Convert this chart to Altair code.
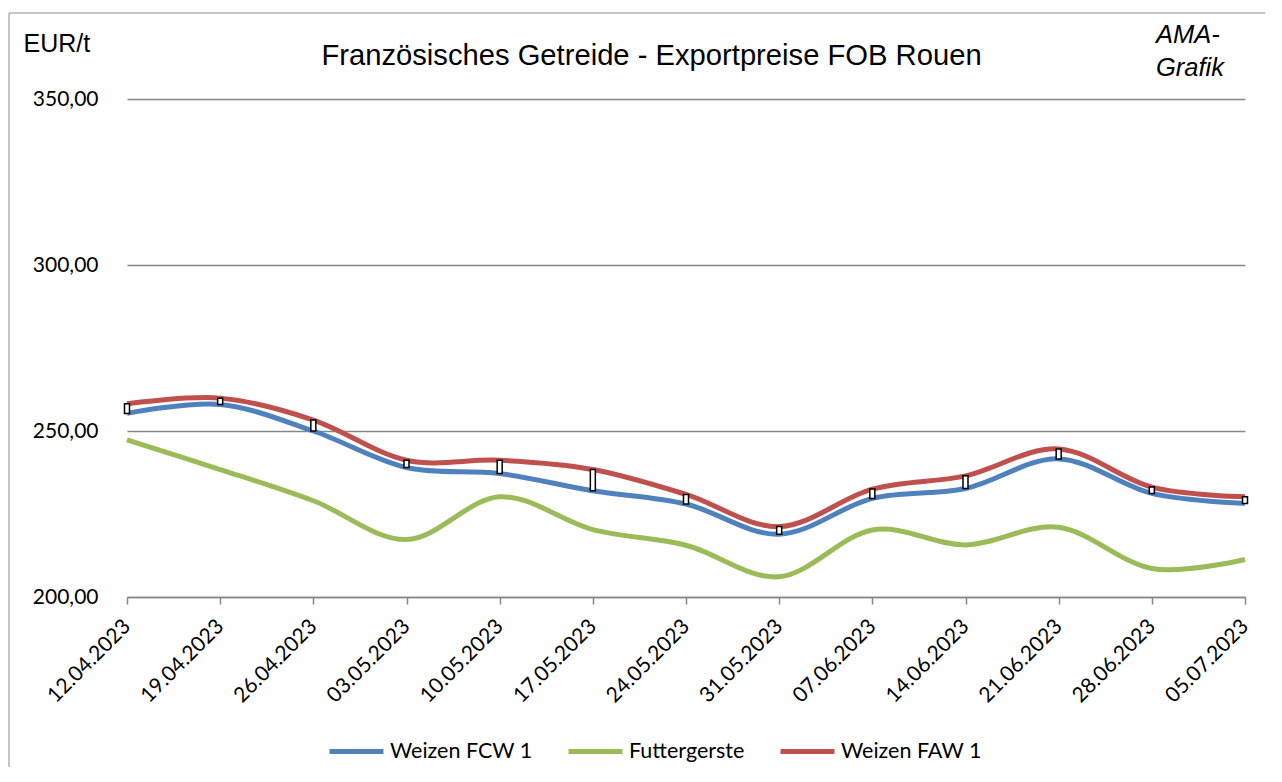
import altair as alt
import pandas as pd

# ---- data ----
dates = ["12.04.2023", "19.04.2023", "26.04.2023", "03.05.2023", "10.05.2023",
         "17.05.2023", "24.05.2023", "31.05.2023", "07.06.2023", "14.06.2023",
         "21.06.2023", "28.06.2023", "05.07.2023"]
weizen_fcw = [255.3, 258.0, 250.0, 239.0, 237.2, 232.0, 228.0, 218.9, 229.7, 232.7, 241.6, 231.2, 228.2]
futtergerste = [247.3, 238.4, 229.0, 217.3, 230.2, 220.3, 215.6, 206.1, 220.2, 215.7, 221.0, 208.6, 211.3]
weizen_faw = [258.2, 259.9, 253.3, 241.2, 241.2, 238.4, 230.9, 221.2, 232.5, 236.5, 244.6, 233.1, 230.2]

series_names = ["Weizen FCW 1", "Futtergerste", "Weizen FAW 1"]
series_colors = ["#4F81BD", "#9BBB59", "#C0504D"]
y_ticks = [200, 250, 300, 350]

title_text = "Französisches Getreide - Exportpreise FOB Rouen"
unit_text = "EUR/t"
source_text = ["AMA-", "Grafik"]

# ---- tables ----
rows = []
for name, vals in zip(series_names, [weizen_fcw, futtergerste, weizen_faw]):
    for d, v in zip(dates, vals):
        rows.append({"Datum": d, "Serie": name, "Wert": v})
long_df = pd.DataFrame(rows)
wide_df = pd.DataFrame({"Datum": dates, "FCW": weizen_fcw, "FAW": weizen_faw})

W, H = 1118, 498
GRAY = "#878787"
LABEL_FONT = "Lato"

x_enc = alt.X(
    "Datum:N", sort=dates,
    scale=alt.Scale(type="point", padding=0),
    axis=alt.Axis(
        title=None, labelAngle=-45, labelAlign="right", labelBaseline="middle",
        labelFont=LABEL_FONT, labelFontSize=21, labelColor="black",
        labelPadding=19, tickSize=7, tickColor=GRAY, tickWidth=1.5,
        domainColor=GRAY, domainWidth=1.5, grid=False, labelOverlap=False,
    ),
)

y_axis = alt.Axis(
    values=y_ticks, grid=True, gridColor=GRAY, gridWidth=1.3,
    domain=False, ticks=False,
    labelExpr="replace(format(datum.value, '.2f'), '.', ',')",
    labelFont=LABEL_FONT, labelFontSize=21, labelColor="black", labelPadding=29,
    title=unit_text, titleAngle=0, titleAlign="left", titleBaseline="alphabetic",
    titleX=-104, titleY=-48, titleFont="Liberation Sans", titleFontSize=25,
    titleFontWeight="normal", titleColor="black",
)
y_scale = alt.Scale(domain=[200, 350], nice=False, zero=False)

frame = alt.Chart(pd.DataFrame({"k": [0]})).mark_rect(
    fillOpacity=0, stroke="#8a8a8a", strokeWidth=1
).encode(
    x=alt.value(-118), x2=alt.value(3000), y=alt.value(-86), y2=alt.value(3000)
)

lines = alt.Chart(long_df).mark_line(
    interpolate="cardinal", strokeWidth=5, strokeCap="butt"
).encode(
    x=x_enc,
    y=alt.Y("Wert:Q", scale=y_scale, axis=y_axis),
    color=alt.Color(
        "Serie:N", sort=series_names,
        scale=alt.Scale(domain=series_names, range=series_colors),
        legend=alt.Legend(
            title=None, orient="none", legendX=200, legendY=623,
            direction="horizontal", columns=3, symbolType="stroke",
            symbolSize=2916, symbolStrokeWidth=5, labelFont=LABEL_FONT,
            labelFontSize=21.5, labelColor="black", labelOffset=4,
            columnPadding=25, padding=0,
        ),
    ),
)

bars = alt.Chart(wide_df).mark_bar(
    size=5, fill="white", stroke="black", strokeWidth=1.5
).encode(
    x=alt.X("Datum:N", sort=dates),
    y=alt.Y("FCW:Q", scale=y_scale, axis=y_axis),
    y2="FAW:Q",
)

title = alt.Chart(pd.DataFrame({"k": [0]})).mark_text(
    font="Liberation Sans", fontSize=29.2, color="black", align="center",
    baseline="alphabetic"
).encode(x=alt.value(524.5), y=alt.value(-34.5), text=alt.value(title_text))

source = alt.Chart(pd.DataFrame({"k": [0]})).mark_text(
    font="Liberation Sans", fontSize=25.5, fontStyle="italic", color="black",
    align="left", baseline="alphabetic", lineHeight=33
).encode(x=alt.value(1029), y=alt.value(-55.7), text=alt.value(source_text))

chart = alt.layer(frame, lines, bars, title, source).properties(
    width=W, height=H,
    autosize=alt.AutoSizeParams(type="none"),
    padding={"left": 119, "top": 91, "right": 20, "bottom": 170},
).configure(background="white").configure_view(stroke=None)

chart.save("out.html", embed_options={"renderer": "svg", "actions": False})
